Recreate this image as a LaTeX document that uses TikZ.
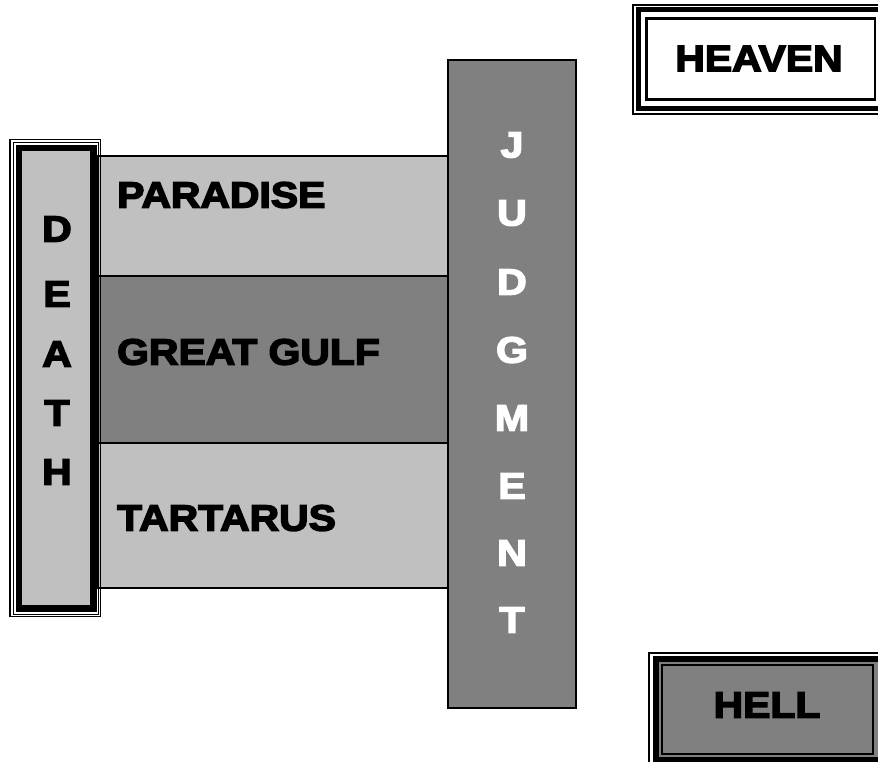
\documentclass[tikz,border=0pt]{standalone}
\usepackage{fontspec}
\newfontfamily\blk[FakeStretch=1.12,FakeBold=4]{Liberation Sans}
\definecolor{lgray}{HTML}{C0C0C0}
\definecolor{dgray}{HTML}{808080}
\tikzset{
  lbl/.style={inner sep=0pt, font=\blk\bfseries\fontsize{36.5}{36.5}\selectfont},
  band/.style={draw=black, line width=2pt},
  vlet/.style={lbl, text=white},
}
\begin{document}
\begin{tikzpicture}[x=1pt,y=-1pt]
\useasboundingbox (0,0) rectangle (878,761);
\clip (0,0) rectangle (878,761);
% bands
\draw[band, fill=lgray] (97,156) rectangle (448,276);
\draw[band, fill=dgray] (97,276) rectangle (448,443);
\draw[band, fill=lgray] (97,443) rectangle (448,588);
\node[lbl, anchor=west] (paradise) at (117,195) {PARADISE};
\node[lbl, anchor=west] (gulf) at (117,352) {GREAT GULF};
\node[lbl, anchor=west] (tartarus) at (117,518) {TARTARUS};
% death frame
\draw[line width=1.5pt] (10,139.5) rectangle (100.5,616.5);
\draw[line width=1pt] (13.5,142.5) rectangle (98.5,614);
\draw[line width=6.5pt, fill=lgray] (18.75,148) rectangle (93.5,608.5);
\node[lbl] (d1) at (57,229) {D};
\node[lbl] (d2) at (57,294) {E};
\node[lbl] (d3) at (57,354) {A};
\node[lbl] (d4) at (57,413) {T};
\node[lbl] (d5) at (57,472) {H};
% judgment
\draw[line width=2pt, fill=dgray] (448,60) rectangle (576,708);
\node[vlet] (j1) at (512,145) {J};
\node[vlet] (j2) at (512,213) {U};
\node[vlet] (j3) at (512,282) {D};
\node[vlet] (j4) at (512,350) {G};
\node[vlet] (j5) at (512,418) {M};
\node[vlet] (j6) at (512,486) {E};
\node[vlet] (j7) at (512,553) {N};
\node[vlet] (j8) at (512,620) {T};
% heaven
\draw[line width=2pt] (633,5) rectangle (895,114);
\draw[line width=5pt] (638.5,9.5) rectangle (884,108.5);
\draw[line width=2.5pt, fill=white] (646.5,18.5) rectangle (875,99.5);
\node[lbl] (heaven) at (759,58.5) {HEAVEN};
% hell
\draw[line width=2pt] (649,653) rectangle (895,800);
\draw[line width=6pt, fill=dgray] (655.5,659) rectangle (885,760);
\draw[line width=2pt] (661.5,665) rectangle (873,754);
\node[lbl] (hell) at (767,705) {HELL};
\end{tikzpicture}
\end{document}
